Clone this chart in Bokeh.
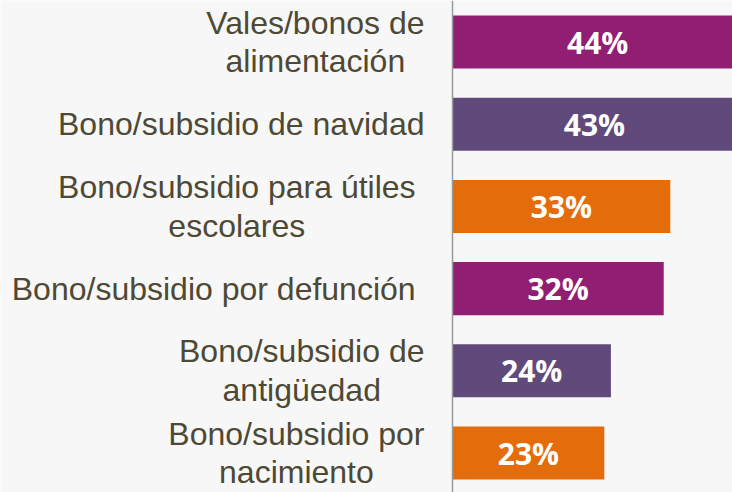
from bokeh.plotting import figure
from bokeh.models import Range1d, Span, ColumnDataSource
from bokeh.core.properties import value
from bokeh.embed import file_html
from bokeh.resources import INLINE

categories = [
    "Vales/bonos de\nalimentación",
    "Bono/subsidio de navidad",
    "Bono/subsidio para útiles \nescolares ",
    "Bono/subsidio por defunción ",
    "Bono/subsidio de\nantigüedad",
    "Bono/subsidio por\nnacimiento",
]
values = [44, 43, 33, 32, 24, 23]
colors = ["#921E73", "#604A7B", "#E46C0A", "#921E73", "#604A7B", "#E46C0A"]

ys = list(range(len(categories)))
src = ColumnDataSource(dict(
    y=ys,
    v=values,
    half=[v / 2 for v in values],
    lab=[f"{v}%" for v in values],
    cat=categories,
    color=colors,
))

BG = "#F7F7F7"
p = figure(width=732, height=492, output_backend="svg", toolbar_location=None,
           x_range=Range1d(-68.48, 42.42), y_range=Range1d(5.48, -0.505),
           min_border=0, background_fill_color=BG, border_fill_color=BG)
p.outline_line_color = None
p.xaxis.visible = False
p.yaxis.visible = False
p.xgrid.visible = False
p.ygrid.visible = False

p.hbar(y="y", left=0, right="v", height=0.645, color="color", line_color=None, source=src)

p.add_layout(Span(location=0, dimension="height", line_color="#9A9A9A", line_width=1.5))

p.text(x=0, y="y", text="cat", source=src, x_offset=-28,
       anchor="center_right", text_align="center", text_baseline="middle",
       text_font=value("Liberation Sans"), text_font_size="32px",
       text_color="#4D4935", text_line_height=1.075)

p.text(x="half", y="y", text="lab", source=src,
       text_align="center", text_baseline="middle",
       text_font=value("Open Sans"), text_font_style="bold", text_font_size="30px",
       text_color="white")

open("out.html", "w").write(file_html(p, INLINE))
